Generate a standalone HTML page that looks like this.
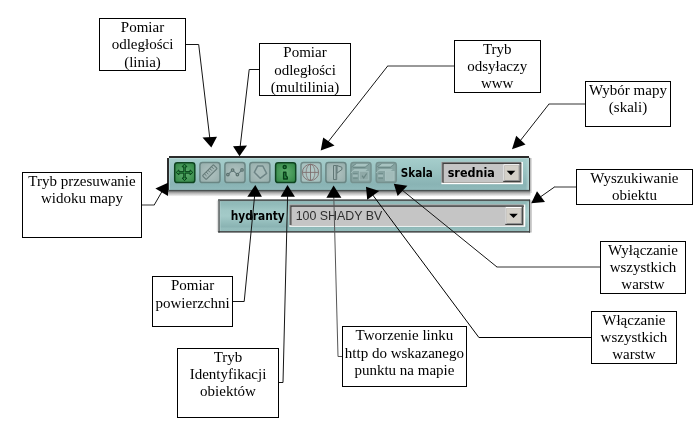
<!DOCTYPE html>
<html lang="pl">
<head>
<meta charset="utf-8">
<title>Pasek narzędzi mapy</title>
<style>
html,body{margin:0;padding:0;background:#fff;}
body{width:700px;height:424px;overflow:hidden;position:relative;}
svg{will-change:transform;position:absolute;left:0;top:0;display:block;}
.lbl{font-family:"Liberation Serif","Times New Roman",serif;font-size:15px;fill:#000;text-anchor:middle;}
.box{fill:#fff;stroke:#000;stroke-width:1;}
.ln{fill:none;stroke:#151515;stroke-width:1;}
.lg{fill:none;stroke:#333;stroke-width:1;}
.ah{fill:#000;stroke:none;}
.ui{font-family:"DejaVu Sans Condensed","Liberation Sans",sans-serif;font-weight:bold;font-size:11.5px;fill:#000;}
.uir{font-family:"Liberation Sans",Arial,sans-serif;font-size:12.4px;fill:#2e2e2e;}
</style>
</head>
<body>
<svg width="700" height="424" viewBox="0 0 700 424">
<defs>
  <linearGradient id="tb" x1="0" y1="0" x2="0" y2="1">
    <stop offset="0" stop-color="#a6cecc"/>
    <stop offset="0.45" stop-color="#98c1c0"/>
    <stop offset="0.82" stop-color="#89b3b4"/>
    <stop offset="1" stop-color="#90babb"/>
  </linearGradient>
  <linearGradient id="tb2" x1="0" y1="0" x2="0" y2="1">
    <stop offset="0" stop-color="#8fb9b8"/>
    <stop offset="0.12" stop-color="#92bbba"/>
    <stop offset="0.3" stop-color="#a0c7c5"/>
    <stop offset="0.5" stop-color="#a3cac8"/>
    <stop offset="0.78" stop-color="#8fb8b7"/>
    <stop offset="0.86" stop-color="#8ab3b3"/>
    <stop offset="0.9" stop-color="#93bcbb"/>
    <stop offset="1" stop-color="#94bdbc"/>
  </linearGradient>
  <linearGradient id="tr" x1="0" y1="0" x2="1" y2="0">
    <stop offset="0" stop-color="#b9d8d7" stop-opacity="0"/>
    <stop offset="1" stop-color="#b9d8d7" stop-opacity="0.9"/>
  </linearGradient>
  <linearGradient id="gl2" x1="0" y1="0" x2="1" y2="0">
    <stop offset="0" stop-color="#fff"/>
    <stop offset="1" stop-color="#cfcfcf"/>
  </linearGradient>
  <linearGradient id="sh" x1="0" y1="0" x2="0" y2="1">
    <stop offset="0" stop-color="#7c7c7c"/>
    <stop offset="0.35" stop-color="#b4b4b4"/>
    <stop offset="1" stop-color="#fff"/>
  </linearGradient>
  <radialGradient id="gr" cx="0.5" cy="0.5" r="0.7">
    <stop offset="0" stop-color="#60b070"/>
    <stop offset="1" stop-color="#2f8243"/>
  </radialGradient>
  <radialGradient id="gl" cx="0.5" cy="0.5" r="0.7">
    <stop offset="0" stop-color="#b5cac8"/>
    <stop offset="1" stop-color="#a3bfbd"/>
  </radialGradient>
  <radialGradient id="gy" cx="0.5" cy="0.5" r="0.7">
    <stop offset="0" stop-color="#b1c3c1"/>
    <stop offset="1" stop-color="#95adab"/>
  </radialGradient>
</defs>

<!-- connectors (drawn below toolbars where needed) -->
<g id="connectors">
  <polyline class="ln" points="185.5,44.5 198.7,44.5 210,140"/>
  <polyline class="ln" points="259.5,69.5 249.2,69.5 240,148"/>
  <polyline class="ln" points="387.7,66 328,142"/>
  <path class="lg" d="M454.5 66H387.4"/>
  <polyline class="ln" points="549,104 520,141"/>
  <path class="lg" d="M585.5 104H548.8"/>
  <polyline class="ln" points="554.5,187 541,196.5"/>
  <path class="lg" d="M576.5 187H554.2"/>
  <polyline class="ln" points="154.2,205 162,191.5"/>
  <path class="lg" d="M141.5 205H154.4"/>
</g>

<!-- toolbar 1 -->
<g id="toolbar1">
  <rect x="167.4" y="191.2" width="363" height="5.4" fill="url(#sh)"/>
  <rect x="530" y="158" width="1.7" height="35" fill="#cfcfcf"/>
  <rect x="169" y="158" width="360" height="32" fill="url(#tb)"/>
  <rect x="169" y="158" width="360" height="1" fill="#b6d8d6"/>
  <rect x="169" y="158" width="1" height="32" fill="#b0d2d1"/>
  <rect x="525.8" y="159" width="3.2" height="31" fill="url(#tr)"/>
  <rect x="169" y="156" width="360" height="2" fill="#2c2c2c"/>
  <rect x="167" y="158" width="2" height="33.4" fill="#2c2c2c"/>
  <rect x="529" y="157.8" width="1.1" height="33" fill="#363838"/>
  <rect x="167" y="189.9" width="363.1" height="1.5" fill="#4a5050"/>
</g>

<!-- toolbar 2 -->
<g id="toolbar2">
  <rect x="216.2" y="200.5" width="2" height="31.5" fill="url(#gl2)"/>
  <rect x="530.1" y="200.5" width="1.9" height="32" fill="#cfcfcf"/>
  <rect x="219.9" y="201.1" width="309.2" height="30" fill="url(#tb2)"/>
  <rect x="219.9" y="201.1" width="1" height="30" fill="#b0d2d1" opacity="0.5"/>
  <rect x="526" y="202.1" width="3.1" height="29" fill="url(#tr)"/>
  <rect x="218.2" y="199.3" width="311.9" height="1.8" fill="#525959"/>
  <rect x="218.2" y="199.3" width="1.7" height="33.2" fill="#646c6c"/>
  <rect x="529.1" y="199.8" width="1" height="32.8" fill="#363838"/>
  <rect x="218.2" y="231.1" width="311.9" height="1.5" fill="#3c4141"/>
</g>

<!-- buttons -->
<g id="buttons">
  <rect x="174.7" y="162.7" width="20.1" height="19.9" rx="2.6" fill="url(#gr)" stroke="#0e4420" stroke-width="1.5"/>
  <rect x="199.9" y="162.6" width="20.1" height="20" rx="2.6" fill="url(#gy)" stroke="#6a8684" stroke-width="1.5"/>
  <rect x="224.9" y="162.6" width="20.1" height="20" rx="2.6" fill="url(#gy)" stroke="#6a8684" stroke-width="1.5"/>
  <rect x="249.8" y="162.6" width="20.1" height="20" rx="2.6" fill="url(#gy)" stroke="#6a8684" stroke-width="1.5"/>
  <rect x="275.6" y="162.7" width="20.1" height="19.9" rx="2.6" fill="url(#gr)" stroke="#0e4420" stroke-width="1.5"/>
  <rect x="301.0" y="162.6" width="20.1" height="20" rx="2.6" fill="url(#gl)" stroke="#6f8a88" stroke-width="1.5"/>
  <rect x="325.9" y="162.6" width="20.1" height="20" rx="2.6" fill="url(#gy)" stroke="#6a8684" stroke-width="1.5"/>
  <rect x="350.9" y="162.6" width="20.1" height="20" rx="2.6" fill="#86a3a1" stroke="#75918f" stroke-width="1.5"/>
  <rect x="376.2" y="162.6" width="20.1" height="20" rx="2.6" fill="#86a3a1" stroke="#75918f" stroke-width="1.5"/>
</g>

<!-- icons -->
<g id="icons">
  <!-- move -->
  <polygon points="183.75,171.65 183.75,166.80 182.00,166.80 184.50,164.10 187.00,166.80 185.25,166.80 185.25,171.65 190.10,171.65 190.10,169.90 192.80,172.40 190.10,174.90 190.10,173.15 185.25,173.15 185.25,178.00 187.00,178.00 184.50,180.70 182.00,178.00 183.75,178.00 183.75,173.15 178.90,173.15 178.90,174.90 176.20,172.40 178.90,169.90 178.90,171.65" fill="#359649" stroke="#07401a" stroke-width="1" stroke-linejoin="round"/>
  <!-- ruler -->
  <g transform="translate(209.8 172.1) rotate(-45)">
    <rect x="-7.8" y="-2.7" width="15.6" height="5.4" rx="0.9" fill="#a2b6b4" stroke="#677d7b" stroke-width="1.2"/>
    <path d="M-5 -2.7V0.4M-2.5 -2.7V0.4M0 -2.7V0.4M2.5 -2.7V0.4M5 -2.7V0.4" stroke="#5f7573" stroke-width="0.9" fill="none"/>
  </g>
  <!-- multiline -->
  <g>
    <polyline points="227.9,174.6 232.6,170.1 237.4,174.6 242,169.9" fill="none" stroke="#667d7f" stroke-width="1.1"/>
    <circle cx="227.9" cy="174.6" r="1.25" fill="#a3b6b4" stroke="#5c7371" stroke-width="1.3"/>
    <circle cx="232.6" cy="170.1" r="1.25" fill="#a3b6b4" stroke="#5c7371" stroke-width="1.3"/>
    <circle cx="237.4" cy="174.6" r="1.25" fill="#a3b6b4" stroke="#5c7371" stroke-width="1.3"/>
    <circle cx="242" cy="169.9" r="1.25" fill="#a3b6b4" stroke="#5c7371" stroke-width="1.3"/>
  </g>
  <!-- polygon -->
  <polygon points="257.6,166.1 262.8,166 266.6,173.3 260.2,178.3 254.3,172.3" fill="#a8bcba" stroke="#6e8586" stroke-width="1.5" stroke-linejoin="round"/>
  <!-- info -->
  <g fill="#2c8843" stroke="#08401a" stroke-width="1.4" stroke-linejoin="round">
    <circle cx="284.7" cy="167.1" r="1.55"/>
    <path d="M283.6 172.2H285.9V175.6L287.3 177.2V179H283.6Z"/>
  </g>
  <!-- globe -->
  <g fill="none" stroke="#7c6a6a" stroke-width="0.85">
    <circle cx="310.5" cy="172.4" r="8.1"/>
    <ellipse cx="310.5" cy="172.4" rx="4.4" ry="8.1" stroke-width="0.7"/>
    <path d="M310.5 164.3V180.5M302.4 172.4H318.6"/>
  </g>
  <!-- flag -->
  <g stroke="#607775" stroke-width="1" fill="#a9bdbb" stroke-linejoin="round">
    <path d="M336.9 165.5L341.8 167.2L342 169.4L336.9 173.2Z"/>
    <rect x="333.5" y="165.5" width="3.2" height="14.1"/>
    <path d="M335.4 166V179" stroke="#7d9290" stroke-width="0.7"/>
  </g>
  <!-- layers on -->
  <g>
    <polygon points="356.1,164 368.8,164 365.3,166.6 352.9,166.6" fill="#a8c3c1"/>
    <path d="M356.3 163.6L351.3 167.2M369.3 163.8L365.2 167.2" stroke="#6b8886" stroke-width="0.8" fill="none"/>
    <rect x="352.8" y="166.8" width="12.5" height="1.3" fill="#6d8a88"/>
    <polygon points="354.6,169.1 367.6,169.1 365.6,170.9 352.2,170.9" fill="#a4bfbd"/>
    <path d="M350.9 172.8L353.3 171" stroke="#a8c3c1" stroke-width="0.9" fill="none"/>
    <rect x="353.1" y="173.2" width="4.6" height="1.1" fill="#6d8a88"/>
    <rect x="352.8" y="174.6" width="4.9" height="2.3" fill="#a0bab8"/>
    <rect x="353.1" y="177.6" width="4.6" height="1.1" fill="#6d8a88"/>
    <rect x="359.4" y="171.4" width="8.9" height="8.6" fill="#8fa9a7" stroke="#a6c1bf" stroke-width="0.75"/>
    <path d="M362.0 175.7L363.7 177.9L366.7 173.5" fill="none" stroke="#6b8785" stroke-width="1.2"/>
  </g>
  <!-- layers off -->
  <g>
    <polygon points="381.4,164 394.1,164 390.6,166.6 378.2,166.6" fill="#a8c3c1"/>
    <path d="M381.6 163.6L376.6 167.2M394.6 163.8L390.5 167.2" stroke="#6b8886" stroke-width="0.8" fill="none"/>
    <rect x="378.1" y="166.8" width="12.5" height="1.3" fill="#6d8a88"/>
    <polygon points="379.9,169.1 392.9,169.1 390.9,170.9 377.5,170.9" fill="#a4bfbd"/>
    <path d="M376.2 172.8L378.6 171" stroke="#a8c3c1" stroke-width="0.9" fill="none"/>
    <rect x="378.4" y="173.2" width="4.6" height="1.1" fill="#6d8a88"/>
    <rect x="378.1" y="174.6" width="4.9" height="2.3" fill="#a0bab8"/>
    <rect x="378.4" y="177.6" width="4.6" height="1.1" fill="#6d8a88"/>
    <rect x="385.4" y="171.6" width="8.7" height="8.7" fill="#a2bcba" stroke="#adc7c5" stroke-width="0.7"/>
  </g>
</g>

<!-- selects -->
<g id="select1">
  <rect x="441.4" y="161.9" width="81.5" height="22.3" fill="#fff"/>
  <rect x="441.4" y="161.9" width="79.9" height="20.7" fill="#808080"/>
  <rect x="442.6" y="162.9" width="78.7" height="19.7" fill="#404040"/>
  <rect x="443.8" y="164.1" width="77.5" height="18.5" fill="#d4d0c8"/>
  <rect x="443.8" y="164.1" width="76.9" height="17.9" fill="#c5c5c5"/>
  <rect x="503.2" y="164.1" width="17.5" height="17.9" fill="#404040"/>
  <rect x="503.2" y="164.1" width="16.3" height="16.7" fill="#fff"/>
  <rect x="504.4" y="165.3" width="15.1" height="15.5" fill="#808080"/>
  <rect x="504.4" y="165.3" width="14.3" height="14.7" fill="#d4d0c8"/>
  <path d="M506.7 170.8h8.6l-4.3 4.5z" fill="#000"/>
  <text class="ui" x="400.8" y="177.4" textLength="32" lengthAdjust="spacingAndGlyphs">Skala</text>
  <text class="ui" x="447.7" y="177.4" textLength="47.2" lengthAdjust="spacingAndGlyphs">srednia</text>
</g>
<g id="select2">
  <rect x="289.3" y="204.5" width="236" height="22.3" fill="#fff"/>
  <rect x="289.3" y="204.5" width="234.4" height="20.7" fill="#808080"/>
  <rect x="290.5" y="205.7" width="233.2" height="19.5" fill="#404040"/>
  <rect x="291.7" y="206.9" width="232" height="18.3" fill="#d4d0c8"/>
  <rect x="291.7" y="206.9" width="231.2" height="18.1" fill="#c5c5c5"/>
  <rect x="505.3" y="206.9" width="17.6" height="18.1" fill="#404040"/>
  <rect x="505.3" y="206.9" width="16.4" height="16.9" fill="#fff"/>
  <rect x="506.5" y="208.1" width="15.2" height="15.7" fill="#808080"/>
  <rect x="506.5" y="208.1" width="14.4" height="14.9" fill="#d4d0c8"/>
  <path d="M509.2 213.7h8.6l-4.3 4.4z" fill="#000"/>
  <text class="ui" x="230.8" y="219.9" textLength="54" lengthAdjust="spacingAndGlyphs">hydranty</text>
  <text class="uir" x="295.7" y="219.9">100 SHADY BV</text>
</g>

<!-- connectors above toolbars -->
<g id="connectors2">
  <polyline class="ln" points="232.5,301.5 244.2,301.5 254.6,196"/>
  <polyline class="ln" points="278.5,382.5 283,382.5 287.6,196"/>
  <polyline class="ln" style="stroke:#555" points="342.5,356.5 338,356.5 333.8,197"/>
  <polyline class="ln" style="stroke:#000" points="591.2,337.5 478.9,337.5 372,194"/>
  <polyline class="ln" points="497,267 402,190"/>
  <path class="lg" d="M600.5 267H496.8"/>
</g>

<!-- arrow heads -->
<g id="arrows">
  <polygon class="ah" points="211.3,147.6 202.5,137.6 217,136.7"/>
  <polygon class="ah" points="239.5,156.3 233,146.3 247,145.5"/>
  <polygon class="ah" points="320.7,150.6 323.2,137.5 334.5,145.5"/>
  <polygon class="ah" points="512,149.3 516.2,135.7 525.5,144.5"/>
  <polygon class="ah" points="531.2,203.3 537,191.2 545,202"/>
  <polygon class="ah" points="155.4,188.6 168,182.7 168,195.9"/>
  <polygon class="ah" points="255.3,184.9 247.3,196.7 261.9,196.7"/>
  <polygon class="ah" points="287.5,184.9 280.6,196.7 294.9,196.7"/>
  <polygon class="ah" points="333.6,185.5 326.4,197.7 341.4,197.7"/>
  <polygon class="ah" points="366,186.7 379.2,190.9 367.2,199.7"/>
  <polygon class="ah" points="393.8,183.7 407.4,185.8 397.6,195.9"/>
</g>

<!-- label boxes -->
<g id="boxes">
  <rect class="box" x="99.5" y="18.5" width="86" height="52"/>
  <rect class="box" x="259.5" y="43.5" width="91" height="52"/>
  <rect class="box" x="454.5" y="40.5" width="86" height="52"/>
  <rect class="box" x="585.5" y="81.5" width="85" height="45"/>
  <rect class="box" x="576.5" y="169.5" width="116" height="35"/>
  <rect class="box" x="600.5" y="241.5" width="85" height="52"/>
  <rect class="box" x="591.5" y="311.5" width="85" height="52"/>
  <rect class="box" x="342.5" y="326.5" width="124" height="60"/>
  <rect class="box" x="177.5" y="348.5" width="101" height="69"/>
  <rect class="box" x="152.5" y="276.5" width="80" height="50"/>
  <rect class="box" x="22.5" y="172.5" width="119" height="65"/>
</g>

<g id="labels">
  <text class="lbl" x="142.5" y="32">Pomiar</text>
  <text class="lbl" x="142.5" y="49.3">odległości</text>
  <text class="lbl" x="142.5" y="67">(linia)</text>

  <text class="lbl" x="305" y="56.8">Pomiar</text>
  <text class="lbl" x="305" y="74.5">odległości</text>
  <text class="lbl" x="305" y="91.8">(multilinia)</text>

  <text class="lbl" x="497.2" y="53.8">Tryb</text>
  <text class="lbl" x="497.2" y="71.3">odsyłaczy</text>
  <text class="lbl" x="497.2" y="88">www</text>

  <text class="lbl" x="628" y="95">Wybór mapy</text>
  <text class="lbl" x="628" y="111.5">(skali)</text>

  <text class="lbl" x="634.4" y="182.5">Wyszukiwanie</text>
  <text class="lbl" x="634.4" y="199.7">obiektu</text>

  <text class="lbl" x="643" y="254.5">Wyłączanie</text>
  <text class="lbl" x="643" y="271.8">wszystkich</text>
  <text class="lbl" x="643" y="288.8">warstw</text>

  <text class="lbl" x="633.9" y="324.5">Włączanie</text>
  <text class="lbl" x="633.9" y="341.8">wszystkich</text>
  <text class="lbl" x="633.9" y="359.3">warstw</text>

  <text class="lbl" x="404.4" y="339.9">Tworzenie linku</text>
  <text class="lbl" x="404.4" y="357.5">http do wskazanego</text>
  <text class="lbl" x="404.4" y="375">punktu na mapie</text>

  <text class="lbl" x="228" y="361.8">Tryb</text>
  <text class="lbl" x="228" y="378.8">Identyfikacji</text>
  <text class="lbl" x="228" y="395.5">obiektów</text>

  <text class="lbl" x="192.6" y="289.5">Pomiar</text>
  <text class="lbl" x="192.6" y="307.5">powierzchni</text>

  <text class="lbl" x="82" y="185.8">Tryb przesuwanie</text>
  <text class="lbl" x="82" y="203.3">widoku mapy</text>
</g>
</svg>
</body>
</html>
